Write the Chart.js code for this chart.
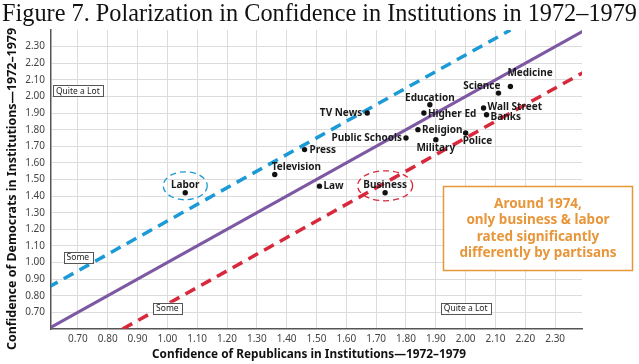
<!DOCTYPE html>
<html><head><meta charset="utf-8">
<script src="https://cdn.jsdelivr.net/npm/chart.js@4.4.1/dist/chart.umd.min.js"></script>
<style>html,body{margin:0;padding:0;background:#fff;}#wrap{width:639px;height:364px;position:relative;}</style>
</head><body><div id="wrap"><canvas id="c" width="639" height="364"></canvas></div>
<script>
// ---- data ----
const chartTitle = 'Figure 7. Polarization in Confidence in Institutions in 1972\u20131979';
const xTitle = 'Confidence of Republicans in Institutions\u20141972\u20131979';
const yTitle = 'Confidence of Democrats in Institutions\u20141972\u20131979';
const institutions = ['Medicine','Science','Education','Higher Ed','TV News','Wall Street','Banks','Religion','Public Schools','Military','Police','Press','Television','Law','Business','Labor'];
const republicans = [2.15,2.11,1.88,1.86,1.67,2.06,2.07,1.84,1.80,1.90,2.00,1.46,1.36,1.51,1.73,1.06];
const democrats  = [2.06,2.02,1.95,1.90,1.90,1.93,1.89,1.80,1.75,1.74,1.78,1.68,1.53,1.46,1.42,1.42];
const xTicks = [0.7,0.8,0.9,1.0,1.1,1.2,1.3,1.4,1.5,1.6,1.7,1.8,1.9,2.0,2.1,2.2,2.3];
const yTicks = [0.7,0.8,0.9,1.0,1.1,1.2,1.3,1.4,1.5,1.6,1.7,1.8,1.9,2.0,2.1,2.2,2.3];
const parityLine = [[0.6,0.6],[2.4,2.4]];
const demLine = [[0.6,0.85],[2.15,2.4]];
const repLine = [[0.85,0.6],[2.4,2.15]];
const regionLabels = ['Quite a Lot','Some','Some','Quite a Lot'];
const regionX = [0.70,0.70,1.00,2.00];
const regionY = [2.035,1.03,0.725,0.725];
const highlighted = ['Labor','Business'];
const noteLines = ['Around 1974,','only business & labor','rated significantly','differently by partisans'];

// ---- styles ----
const BLUE = '#1b9ad6', PURPLE = '#7d58a3', RED = '#d8283c', ORANGE = '#e8963a';
const LABEL_FONT = 'bold 10px "Noto Sans"';
// [dx, dy, align]
const labelPlace = {
  'Medicine':[-3,-13,'left'], 'Science':[2,-7,'right'], 'Education':[0,-7,'center'],
  'Higher Ed':[4,1,'left'], 'TV News':[-5,0,'right'], 'Wall Street':[4,-1,'left'],
  'Banks':[4,2,'left'], 'Religion':[4,0,'left'], 'Public Schools':[-4,0,'right'],
  'Military':[0,9,'center'], 'Police':[-3,8,'left'], 'Press':[5,1,'left'],
  'Television':[-3,-7,'left'], 'Law':[4,0,'left'], 'Business':[0,-8,'center'], 'Labor':[0,-8,'center']
};
const ellipseStyle = {'Labor':{color:BLUE,rx:22,ry:14,dy:-7},'Business':{color:RED,rx:27.5,ry:15,dy:-7}};

const pts = institutions.map((n,i)=>({x:republicans[i], y:democrats[i], name:n}));
const toXY = a => a.map(p=>({x:p[0],y:p[1]}));

const overlay = {
  id:'overlay',
  afterDatasetsDraw(chart){
    const ctx = chart.ctx, xs = chart.scales.x, ys = chart.scales.y;
    const meta = chart.getDatasetMeta(0);
    ctx.save();
    // ellipses
    meta.data.forEach((el,i)=>{
      const n = institutions[i];
      if(!highlighted.includes(n)) return;
      const st = ellipseStyle[n];
      ctx.beginPath();
      ctx.ellipse(el.x, el.y+st.dy, st.rx, st.ry, 0, 0, Math.PI*2);
      ctx.setLineDash([6,4]); ctx.lineWidth = 1.3; ctx.strokeStyle = st.color; ctx.stroke();
    });
    ctx.setLineDash([]);
    // point labels
    ctx.font = LABEL_FONT; ctx.fillStyle = '#1a1a1a'; ctx.textBaseline = 'middle';
    meta.data.forEach((el,i)=>{
      const n = institutions[i], p = labelPlace[n];
      ctx.textAlign = p[2];
      ctx.fillText(n, el.x+p[0], el.y+p[1]);
    });
    // region boxes
    ctx.font = '8.5px "Noto Sans"'; ctx.textAlign='center';
    regionLabels.forEach((t,i)=>{
      const cx = xs.getPixelForValue(regionX[i]), cy = ys.getPixelForValue(regionY[i]);
      const w = ctx.measureText(t).width + 6, h = 11;
      ctx.fillStyle='#fff'; ctx.fillRect(cx-w/2, cy-h/2, w, h);
      ctx.strokeStyle='#555'; ctx.lineWidth=1; ctx.strokeRect(Math.round(cx-w/2)+0.5, Math.round(cy-h/2)+0.5, Math.round(w), h);
      ctx.fillStyle='#222'; ctx.fillText(t, cx, cy+0.5);
    });
    // note box
    ctx.fillStyle='#fff'; ctx.fillRect(443,186,190,84);
    ctx.strokeStyle=ORANGE; ctx.lineWidth=1.5; ctx.strokeRect(443.5,186.5,189,84);
    ctx.font='bold 13.5px "Noto Sans"'; ctx.fillStyle=ORANGE; ctx.textAlign='center';
    noteLines.forEach((t,i)=>ctx.fillText(t, 538, 204+i*16.4));
    ctx.restore();
  },
  afterDraw(chart){
    const ctx = chart.ctx;
    ctx.save();
    ctx.fillStyle='#111'; ctx.textBaseline='alphabetic'; ctx.textAlign='left';
    ctx.font='26px "Liberation Serif"';
    let w = ctx.measureText(chartTitle).width;
    ctx.save(); ctx.translate(2,21); ctx.scale(635/w,1); ctx.fillText(chartTitle,0,0); ctx.restore();
    ctx.font='bold 12px "Noto Sans"'; ctx.textBaseline='middle'; ctx.textAlign='center';
    w = ctx.measureText(xTitle).width;
    ctx.save(); ctx.translate(309,355); ctx.scale(314/w,1); ctx.fillText(xTitle,0,0); ctx.restore();
    w = ctx.measureText(yTitle).width;
    ctx.save(); ctx.translate(13,189); ctx.rotate(-Math.PI/2); ctx.scale(322/w,1); ctx.fillText(yTitle,0,0); ctx.restore();
    ctx.restore();
  }
};

const tickFont = {family:'"Noto Sans"', size:10};
new Chart(document.getElementById('c'), {
  type:'scatter',
  data:{datasets:[
    {data:pts, pointRadius:2.7, pointHoverRadius:2.7, backgroundColor:'#111', borderWidth:0, order:0},
    {type:'line', data:toXY(parityLine), borderColor:PURPLE, borderWidth:3, pointRadius:0, fill:false, order:1, clip:0},
    {type:'line', data:toXY(demLine), borderColor:BLUE, borderWidth:3.5, borderDash:[11,7], pointRadius:0, fill:false, order:1, clip:0},
    {type:'line', data:toXY(repLine), borderColor:RED, borderWidth:3.5, borderDash:[11,7], pointRadius:0, fill:false, order:1, clip:0}
  ]},
  options:{
    responsive:false, animation:false, devicePixelRatio:1,
    layout:{padding:{top:30,right:57,left:0,bottom:0}},
    plugins:{legend:{display:false}, tooltip:{enabled:false}},
    scales:{
      x:{type:'linear', min:0.61, max:2.39,
        afterBuildTicks:s=>{s.ticks = xTicks.map(v=>({value:v}));},
        afterFit:s=>{s.height=35;},
        ticks:{callback:v=>Number(v).toFixed(2), font:tickFont, color:'#444', padding:4, maxRotation:0, autoSkip:false},
        grid:{color:'#dcdcdc', lineWidth:1, drawTicks:false},
        border:{display:true, color:'#555', width:1.5}},
      y:{type:'linear', min:0.6, max:2.4,
        afterBuildTicks:s=>{s.ticks = yTicks.map(v=>({value:v}));},
        afterFit:s=>{s.width=51;},
        ticks:{callback:v=>Number(v).toFixed(2), font:tickFont, color:'#444', padding:6, autoSkip:false},
        grid:{color:'#dcdcdc', lineWidth:1, drawTicks:false},
        border:{display:true, color:'#555', width:1.5}}
    }
  },
  plugins:[overlay]
});
</script></body></html>
